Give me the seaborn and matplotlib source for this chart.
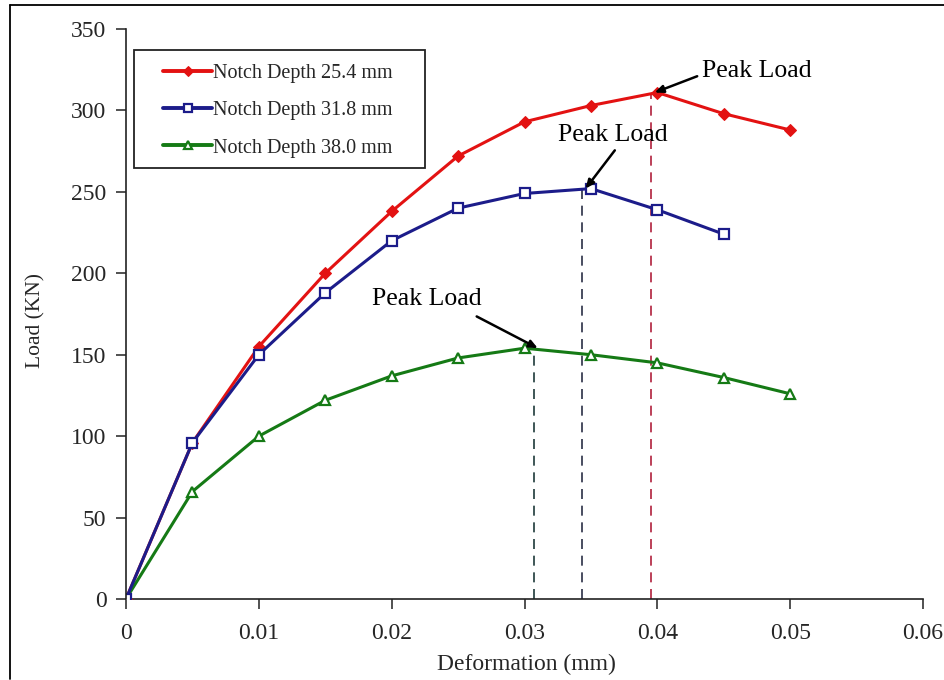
import matplotlib
matplotlib.use("Agg")
import matplotlib.pyplot as plt
from matplotlib.lines import Line2D
from matplotlib.patches import Rectangle
import seaborn as sns
import pandas as pd

# ---- data ----
deformation = [0.0, 0.005, 0.01, 0.015, 0.02, 0.025, 0.03, 0.035, 0.04, 0.045, 0.05]
load_254 = [0, 96, 155, 200, 238, 272, 293, 303, 311, 298, 288]
deformation_318 = [0.0, 0.005, 0.01, 0.015, 0.02, 0.025, 0.03, 0.035, 0.04, 0.045]
load_318 = [0, 96, 150, 188, 220, 240, 249, 252, 239, 224]
load_380 = [0, 66, 100, 122, 137, 148, 154, 150, 145, 136, 126]

series_names = ["Notch Depth 25.4 mm", "Notch Depth 31.8 mm", "Notch Depth 38.0 mm"]
peak_x = [0.0395, 0.0343, 0.0307]
peak_y = [311, 252, 154]
peak_label = "Peak Load"
x_ticks = [0, 0.01, 0.02, 0.03, 0.04, 0.05, 0.06]
x_ticklabels = ["0", "0.01", "0.02", "0.03", "0.04", "0.05", "0.06"]
y_ticks = [0, 50, 100, 150, 200, 250, 300, 350]

# ---- styling ----
sns.set_style("ticks")
plt.rcParams["font.family"] = ["Liberation Serif", "DejaVu Serif"]

colors = ["#e31212", "#1c1c8a", "#157a15"]
dash_colors = ["#b0203c", "#2a2f45", "#1e3a3a"]

W, H = 944, 680
fig = plt.figure(figsize=(W / 100, H / 100), dpi=100)
ax = fig.add_axes([126 / W, 1 - 599 / H, (923 - 126) / W, (599 - 29) / H])

df_a = pd.DataFrame({"x": deformation, "y": load_254})
df_b = pd.DataFrame({"x": deformation_318, "y": load_318})
df_c = pd.DataFrame({"x": deformation, "y": load_380})

# dashed peak lines (behind the curves)
for px, py, dc in zip(peak_x, peak_y, dash_colors):
    ax.plot([px, px], [0, py], linestyle=(0, (6, 4)), color=dc, linewidth=1.2, zorder=1)

sns.lineplot(data=df_a, x="x", y="y", ax=ax, color=colors[0], linewidth=2.2,
             marker="D", markersize=6.5, markerfacecolor=colors[0],
             markeredgecolor=colors[0], label=series_names[0], sort=False, zorder=3)
sns.lineplot(data=df_b, x="x", y="y", ax=ax, color=colors[1], linewidth=2.2,
             marker="s", markersize=7, markerfacecolor="white",
             markeredgecolor=colors[1], markeredgewidth=1.6,
             label=series_names[1], sort=False, zorder=4)
sns.lineplot(data=df_c, x="x", y="y", ax=ax, color=colors[2], linewidth=2.2,
             marker="^", markersize=7.5, markerfacecolor="white",
             markeredgecolor=colors[2], markeredgewidth=1.6,
             label=series_names[2], sort=False, zorder=3)

# annotations
text_pos = [(0.0434, 324.5), (0.0325, 285), (0.0185, 184)]
arrow_tail = [(0.0430, 321), (0.0368, 275.5), (0.0264, 173.5)]
for (tx, ty), (ax_, ay), px, py in zip(text_pos, arrow_tail, peak_x, peak_y):
    ax.text(tx, ty, peak_label, ha="left", va="center", fontsize=18.5, color="black")
    ax.annotate("", xy=(px + 0.0003, py), xytext=(ax_, ay),
                arrowprops=dict(arrowstyle="-|>,head_length=0.5,head_width=0.22",
                                color="black", lw=1.8, shrinkA=0, shrinkB=0),
                zorder=5)

ax.set_xlim(0, 0.06)
ax.set_ylim(0, 350)
ax.set_xticks(x_ticks)
ax.set_xticklabels(x_ticklabels)
ax.set_yticks(y_ticks)
ax.tick_params(axis="both", direction="out", length=7, width=1.1, labelsize=17,
               color="#222222", pad=7)
ax.tick_params(axis="x", pad=10)
for side in ["top", "right"]:
    ax.spines[side].set_visible(False)
for side in ["left", "bottom"]:
    ax.spines[side].set_linewidth(1.2)
    ax.spines[side].set_color("#222222")
ax.spines["left"].set_zorder(6)
ax.set_xlabel("Deformation (mm)", fontsize=17)
ax.set_ylabel("Load (KN)", fontsize=15.5)
ax.xaxis.set_label_coords(0.502, -0.097)
ax.yaxis.set_label_coords(-0.101, 0.489)

# legend (frame drawn separately to match the reference box)
leg = ax.legend(loc="upper left", bbox_to_anchor=(163 / W, 1 - 64 / H),
                bbox_transform=fig.transFigure, frameon=False,
                fontsize=14.5, handlelength=2.45, handletextpad=0.05,
                labelspacing=0.9, borderpad=0, borderaxespad=0,
                markerscale=0.8)
for h in leg.legend_handles:
    h.set_linewidth(2.8)
fig.add_artist(Rectangle((134 / W, 1 - 168 / H), (425 - 134) / W, (168 - 50) / H,
                         transform=fig.transFigure, fill=False,
                         edgecolor="#222222", lw=1.3))

# figure border
fig.add_artist(Line2D([10 / W, 10 / W], [1 - 5 / H, 1 - 679 / H],
                      transform=fig.transFigure, color="black", lw=1.3))
fig.add_artist(Line2D([10 / W, 1.0], [1 - 5 / H, 1 - 5 / H],
                      transform=fig.transFigure, color="black", lw=1.3))

fig.savefig("out.png", dpi=100)
